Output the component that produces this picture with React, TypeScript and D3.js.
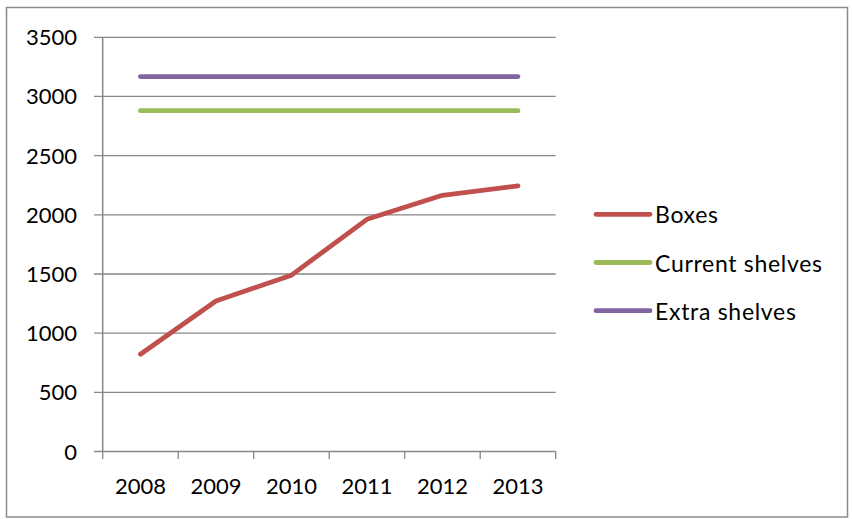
import React from "react";
import * as d3 from "d3";

const years = ["2008", "2009", "2010", "2011", "2012", "2013"];
const boxes = [822, 1272, 1490, 1962, 2165, 2245];
const currentShelves = [2880, 2880, 2880, 2880, 2880, 2880];
const extraShelves = [3168, 3168, 3168, 3168, 3168, 3168];
const yTicks = [0, 500, 1000, 1500, 2000, 2500, 3000, 3500];

const seriesNames = ["Boxes", "Current shelves", "Extra shelves"];
const seriesColors = ["#C0504D", "#9BBB59", "#8064A2"];

const W = 852;
const H = 519;
const left = 102.7;
const right = 555.7;
const top = 37.3;
const bottom = 451.5;
const font = "Lato, 'Open Sans', sans-serif";

export default function App() {
  const x = d3.scaleBand<string>().domain(years).range([left, right]);
  const y = d3.scaleLinear().domain([0, 3500]).range([bottom, top]);
  const cx = (i: number) => (x(years[i]) as number) + x.bandwidth() / 2;
  const line = d3
    .line<number>()
    .x((_, i) => cx(i))
    .y((d) => y(d));
  const series = [boxes, currentShelves, extraShelves];
  const grid = "#878787";
  const xEdges = years.map((yr) => x(yr) as number).concat([right]);

  return (
    <svg
      width={W}
      height={H}
      style={{ position: "absolute", left: 0, top: 0, background: "#fff" }}
      fontFamily={font}
    >
      <rect x={6.5} y={7.5} width={841} height={509.5} fill="#fff" stroke="#8a8a8a" strokeWidth={1.5} />
      {yTicks.map((t) => (
        <g key={t}>
          <line x1={94} x2={right} y1={y(t)} y2={y(t)} stroke={grid} strokeWidth={1.3} />
          <text x={77} y={y(t) + 8} textAnchor="end" fontSize={22} fill="#000">
            {t}
          </text>
        </g>
      ))}
      <line x1={left} x2={left} y1={top} y2={bottom} stroke={grid} strokeWidth={1.5} />
      {xEdges.map((xe, i) => (
        <line key={i} x1={xe} x2={xe} y1={bottom} y2={bottom + 7.5} stroke={grid} strokeWidth={1.3} />
      ))}
      {years.map((yr, i) => (
        <text key={yr} x={cx(i)} y={494} textAnchor="middle" fontSize={22} fill="#000">
          {yr}
        </text>
      ))}
      {series.map((s, i) => (
        <path
          key={i}
          d={line(s) as string}
          fill="none"
          stroke={seriesColors[i]}
          strokeWidth={4.8}
          strokeLinecap="round"
          strokeLinejoin="round"
        />
      ))}
      {seriesNames.map((n, i) => {
        const ly = 214.3 + i * 48.2;
        return (
          <g key={n}>
            <line x1={596} x2={650} y1={ly} y2={ly} stroke={seriesColors[i]} strokeWidth={4.8} strokeLinecap="round" />
            <text x={655} y={ly + 9} fontSize={23} letterSpacing={0.7} fill="#000">
              {n}
            </text>
          </g>
        );
      })}
    </svg>
  );
}
